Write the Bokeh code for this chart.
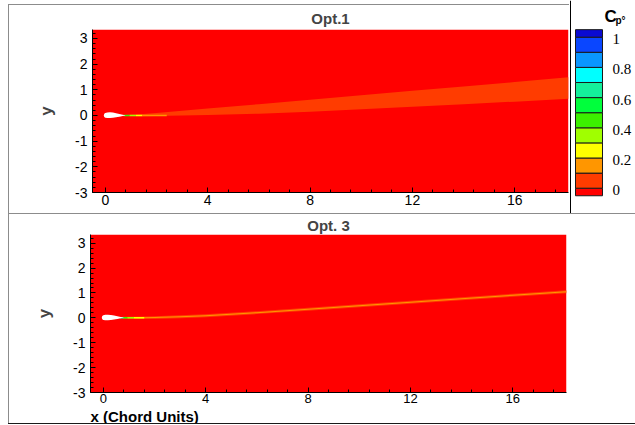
from bokeh.plotting import figure
from bokeh.layouts import column, row
from bokeh.models import Range1d, SingleIntervalTicker, Span, Title, Div
from bokeh.embed import file_html
from bokeh.resources import INLINE
from bokeh.core.properties import value

# ---------------- data ----------------
x_domain = [-0.5, 18.1]
y_domain = [-3.0, 3.35]
y_tick_values = [-3, -2, -1, 0, 1, 2, 3]
y_tick_labels = ["-3", "-2", "-1", "0", "1", "2", "3"]

# contour levels of Cp0 and their flood colours (lowest band first)
cp_levels = [-0.05, 0.0, 0.1, 0.2, 0.3, 0.4, 0.5, 0.6, 0.7, 0.8, 0.9, 1.0, 1.05]
cp_colors = ["#FF0000", "#FF3C00", "#FF9600", "#FFFF00", "#A0FF00", "#3CF000",
             "#00FF3C", "#14F09B", "#00FFFF", "#0A96FF", "#0A46FF", "#0A0AD2"]
cb_ticks = [0.0, 0.2, 0.4, 0.6, 0.8, 1.0]
cb_labels = ["0", "0.2", "0.4", "0.6", "0.8", "1"]

# airfoil outline (white body)
af_x = [-0.06, -0.04, 0.0, 0.08, 0.18, 0.30, 0.42, 0.55, 0.68, 0.78]
af_upper = [0.0, 0.07, 0.10, 0.12, 0.125, 0.115, 0.09, 0.06, 0.03, 0.01]
af_lower = [0.0, -0.06, -0.085, -0.10, -0.10, -0.09, -0.07, -0.045, -0.02, 0.0]

# Opt.1 : wide wake, band 0 - 0.1
opt1_x = [0.75, 1.5, 2, 4, 6, 8, 10, 12, 14, 16, 18.1]
opt1_upper = [0.02, 0.06, 0.10, 0.27, 0.44, 0.61, 0.79, 0.96, 1.13, 1.30, 1.49]
opt1_lower = [-0.02, -0.03, -0.02, 0.02, 0.07, 0.15, 0.24, 0.34, 0.44, 0.54, 0.65]
# Opt.1 : streak behind trailing edge
opt1_te_left = [0.72, 0.95, 1.20, 1.45]
opt1_te_right = [0.95, 1.20, 1.45, 2.40]
opt1_te_colors = ["#3CF000", "#A0FF00", "#FFFF00", "#FF9600"]

# Opt. 3 : thin wake
opt3_x = [0.75, 1.5, 2, 3, 4, 6, 8, 10, 12, 14, 16, 18.1]
opt3_upper = [0.04, 0.05, 0.06, 0.10, 0.14, 0.27, 0.41, 0.55, 0.69, 0.83, 0.97, 1.11]
opt3_lower = [-0.04, -0.05, -0.05, -0.02, 0.02, 0.15, 0.29, 0.43, 0.57, 0.71, 0.85, 0.99]
opt3_core_upper = [0.02, 0.02, 0.03, 0.06, 0.10, 0.23, 0.37, 0.51, 0.65, 0.79, 0.93, 1.07]
opt3_core_lower = [-0.02, -0.02, -0.01, 0.02, 0.06, 0.19, 0.33, 0.47, 0.61, 0.75, 0.89, 1.03]
opt3_te_left = [0.66, 0.80, 0.95, 1.20]
opt3_te_right = [0.80, 0.95, 1.20, 1.60]
opt3_te_colors = ["#14F09B", "#3CF000", "#A0FF00", "#FFFF00"]

FONT = "Liberation Sans"


def panel(title, width, height, bl, br, bt, bb, margin, styles, title_standoff):
    p = figure(width=width, height=height,
               x_range=Range1d(*x_domain), y_range=Range1d(*y_domain),
               output_backend="svg", toolbar_location=None,
               min_border_left=bl, min_border_right=br,
               min_border_top=bt, min_border_bottom=bb,
               background_fill_color="white", border_fill_color="white",
               margin=margin, styles=styles, frame_align=False)
    p.title.text = title
    p.title.align = "center"
    p.title.text_font = FONT
    p.title.text_font_size = "15px"
    p.title.text_font_style = "bold"
    p.title.text_line_height = 0.8
    p.title.standoff = title_standoff
    p.outline_line_color = None
    p.grid.visible = False
    p.xaxis.ticker = SingleIntervalTicker(interval=4, num_minor_ticks=5)
    p.yaxis.ticker = SingleIntervalTicker(interval=1, num_minor_ticks=5)
    p.yaxis.major_label_overrides = dict(zip(y_tick_values, y_tick_labels))
    for ax in (p.xaxis[0], p.yaxis[0]):
        ax.axis_line_color = "black"
        ax.major_tick_in = 5
        ax.major_tick_out = 0
        ax.minor_tick_in = 3
        ax.minor_tick_out = 0
        ax.major_tick_line_color = "black"
        ax.minor_tick_line_color = "black"
        ax.major_label_text_font = FONT
        ax.major_label_text_font_size = "14px"
        ax.major_label_text_color = "black"
    p.xaxis.major_label_standoff = 2
    p.yaxis.major_label_standoff = 5
    p.yaxis.axis_label = "y"
    p.yaxis.axis_label_text_font = FONT
    p.yaxis.axis_label_text_font_size = "17px"
    p.yaxis.axis_label_text_font_style = "bold"
    p.yaxis.axis_label_standoff = 16
    # flow field
    p.quad(left=x_domain[0], right=x_domain[1], bottom=y_domain[0], top=y_domain[1],
           fill_color=cp_colors[0], line_color=None)
    return p


# ---------------- Opt.1 ----------------
p1 = panel("Opt.1", 561, 209, 83, 2, 24, 22, (4, 0, 0, 8),
           {"border-left": "1px solid #8c8c8c", "border-top": "1px solid #8c8c8c"}, 5)
p1.varea(x=opt1_x, y1=opt1_lower, y2=opt1_upper, fill_color=cp_colors[1])
p1.quad(left=opt1_te_left, right=opt1_te_right, bottom=-0.03, top=0.03,
        fill_color=opt1_te_colors, line_color=None)
p1.varea(x=af_x, y1=af_lower, y2=af_upper, fill_color="white")

# ---------------- colour legend ----------------
cb = figure(width=66, height=213, x_range=Range1d(569, 635),
            y_range=Range1d(-0.1675, 1.243), output_backend="svg",
            toolbar_location=None, min_border=0, frame_align=False,
            x_axis_location=None, y_axis_location=None,
            background_fill_color="white", border_fill_color="white")
cb.grid.visible = False
cb.outline_line_color = None
cb.quad(left=575, right=602, bottom=cp_levels[:-1], top=cp_levels[1:],
        fill_color=cp_colors, line_color="#1a1a1a", line_width=1)
cb.text(x=612, y=cb_ticks, text=cb_labels, text_font=value("Liberation Serif"),
        text_font_size="15px", text_baseline="middle", text_align="left",
        text_color="black", y_offset=2)
cb.text(x=[604], y=[1.134], text=["C"], text_font=value(FONT),
        text_font_size="17px", text_font_style="bold", text_color="black",
        text_baseline="alphabetic")
cb.text(x=[615], y=[1.110], text=["p°"], text_font=value(FONT),
        text_font_size="10px", text_font_style="bold", text_color="black",
        text_baseline="alphabetic")
cb.add_layout(Span(location=570, dimension="height", line_color="black", line_width=1))

# ---------------- Opt. 3 ----------------
p2 = panel("Opt. 3", 627, 210, 81, 70, 19, 29, (0, 0, 0, 8),
           {"border-left": "1px solid #8c8c8c", "border-top": "1px solid #8c8c8c"}, 1)
p2.xaxis.major_label_text_font_size = "13px"
p2.xaxis.major_label_standoff = 1
p2.varea(x=opt3_x, y1=opt3_lower, y2=opt3_upper, fill_color=cp_colors[1])
p2.varea(x=opt3_x, y1=opt3_core_lower, y2=opt3_core_upper, fill_color=cp_colors[2])
p2.quad(left=opt3_te_left, right=opt3_te_right, bottom=-0.03, top=0.03,
        fill_color=opt3_te_colors, line_color=None)
p2.varea(x=af_x, y1=af_lower, y2=af_upper, fill_color="white")
p2.add_layout(Title(text="x (Chord Units)", align="left", standoff=0,
                    text_font=FONT, text_font_size="15px", text_font_style="bold",
                    text_color="black", text_line_height=0.75), "below")

bottom_line = Div(text="", width=627, height=1, margin=(0, 0, 0, 8),
                  styles={"background-color": "#1a1a1a"})

layout = column(row(p1, cb), p2, bottom_line)
open("out.html", "w").write(file_html(layout, INLINE))
